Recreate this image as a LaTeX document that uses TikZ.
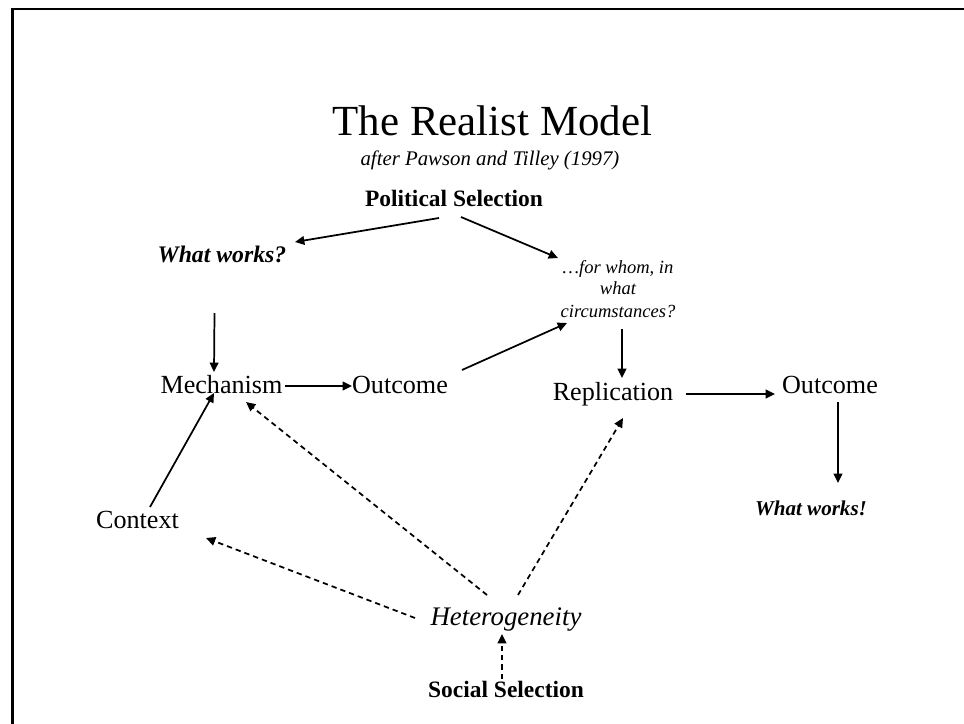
\documentclass[tikz,border=0pt]{standalone}
\usepackage{fontspec}
\setmainfont{Liberation Serif}
\usetikzlibrary{arrows.meta}
\begin{document}
\begin{tikzpicture}[x=0.75pt,y=-0.75pt,
  txt/.style={anchor=base,inner sep=0pt,font=\fontsize{19.6}{23}\selectfont},
  boldtxt/.style={anchor=base,inner sep=0pt,font=\fontsize{17.6}{21}\selectfont\bfseries},
  bitxt/.style={anchor=base,inner sep=0pt,font=\fontsize{#1}{20}\selectfont\bfseries\itshape},
  smallit/.style={anchor=base,inner sep=0pt,font=\fontsize{13.9}{16}\selectfont\itshape},
  arr/.style={line width=1.3pt,-{Triangle[length=7pt,width=6.5pt]}},
  darr/.style={arr,dash pattern=on 4pt off 3pt}]
\useasboundingbox (0,0) rectangle (964,724);
% frame
\draw[line width=1.6pt] (12.5,724) -- (12.5,9) -- (964,9);

% texts
\node[anchor=base,inner sep=0pt,font=\fontsize{32.2}{36}\selectfont] (title) at (492.5,136) {The Realist Model};
\node[anchor=base,inner sep=0pt,font=\fontsize{15.6}{18}\selectfont\itshape] (sub) at (490,165) {after Pawson and Tilley (1997)};
\node[boldtxt] (ps) at (454,206) {Political Selection};
\node[bitxt=17.8] (ww) at (222,262) {What works?};
\node[smallit] (fw1) at (618,273) {\dots for whom, in};
\node[smallit] (fw2) at (618,294.5) {what};
\node[smallit] (fw3) at (618,317) {circumstances?};
\node[txt] (mech) at (221.5,393) {Mechanism};
\node[txt] (out1) at (400,393) {Outcome};
\node[txt] (rep) at (613,400) {Replication};
\node[txt] (out2) at (830,393) {Outcome};
\node[bitxt=15.8] (ww2) at (811,515) {What works!};
\node[txt] (ctx) at (137.5,528) {Context};
\node[anchor=base,inner sep=0pt,font=\fontsize{20.1}{23}\selectfont\itshape] (het) at (506,625) {Heterogeneity};
\node[boldtxt] (ss) at (506,697) {Social Selection};

% solid arrows
\draw[arr] ([shift={(-15,12)}]ps.base) -- ([shift={(73,-20)}]ww.base);
\draw[arr] ([shift={(7,11)}]ps.base) -- ([shift={(-60,-15)}]fw1.base);
\draw[arr] ([shift={(62,-23)}]out1.base) -- ([shift={(-51,6)}]fw3.base);
\draw[arr] ([shift={(4,12)}]fw3.base) -- ([shift={(9,-22)}]rep.base);
\draw[arr] ([shift={(-7.5,51)}]ww.base) -- ([shift={(-7.5,-21)}]mech.base);
\draw[arr] ([shift={(63.5,-7)}]mech.base) -- ([shift={(-48,-7)}]out1.base);
\draw[arr] ([shift={(12.5,-21)}]ctx.base) -- ([shift={(-7.5,0)}]mech.base);
\draw[arr] ([shift={(73,-6)}]rep.base) -- ([shift={(-55,1)}]out2.base);
\draw[arr] ([shift={(8,9)}]out2.base) -- ([shift={(27,-32)}]ww2.base);

% dashed arrows
\draw[darr] ([shift={(-91,-7)}]het.base) -- ([shift={(68.5,10)}]ctx.base);
\draw[darr] ([shift={(-19,-30)}]het.base) -- ([shift={(24.5,9)}]mech.base);
\draw[darr] ([shift={(12,-30)}]het.base) -- ([shift={(10,18)}]rep.base);
\draw[darr] ([shift={(-4,-18)}]ss.base) -- ([shift={(-4,9)}]het.base);
\end{tikzpicture}
\end{document}
